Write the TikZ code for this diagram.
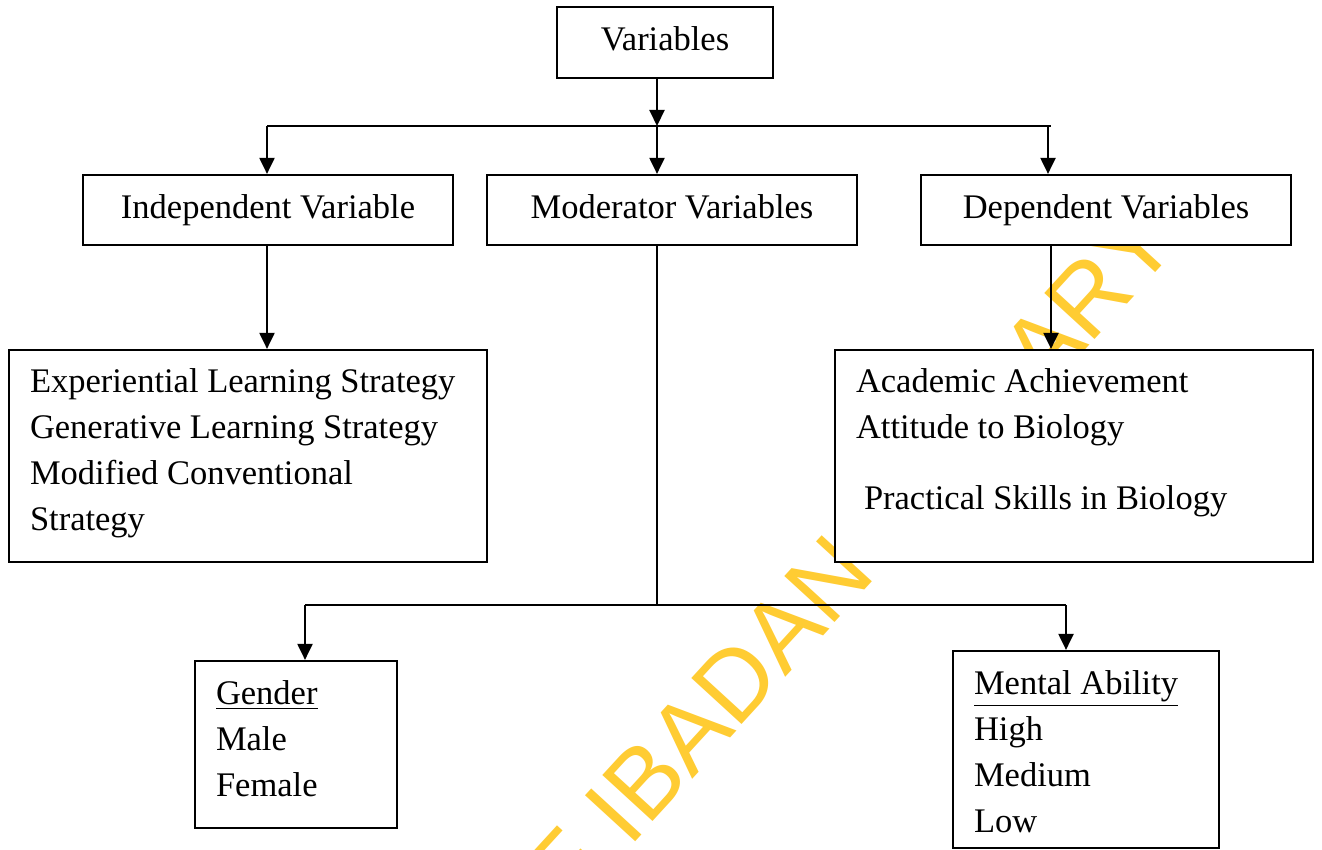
\documentclass[tikz,border=0pt]{standalone}
\usepackage{fontspec}
\setmainfont{Liberation Serif}
\newfontfamily\wmfont{Liberation Sans}
\usetikzlibrary{arrows.meta}
\definecolor{wmyellow}{RGB}{255,204,51}
\newcommand{\diagsize}{\fontsize{17.25}{22.9}\selectfont}

\begin{document}
\begin{tikzpicture}[x=0.5pt,y=-0.5pt,
  box/.style={draw=black, line width=1.1pt, fill=white, inner sep=0pt, font=\diagsize,
    text height=12pt, text depth=3.8pt},
  wide/.style={box, minimum width=185pt, minimum height=35pt},
  list/.style={anchor=north west, inner sep=0pt, outer sep=0pt, align=left, font=\diagsize},
  link/.style={draw=black, line width=1.05pt},
  arr/.style={link, -{Triangle[length=8pt,width=7.5pt]}},
  wm/.style={text=wmyellow, font=\wmfont\fontsize{49.5}{50}\selectfont, rotate=47.5, inner sep=0pt, outer sep=0pt}]

\useasboundingbox (0,0) rectangle (1322,850);
\fill[white] (0,0) rectangle (1322,850);

% library watermark behind everything
\begin{scope}
  \clip (0,0) rectangle (1322,850);
  \node[wm, anchor=base east] (wm-a) at (610,869) {UNIVERSITY OF};
  \node[wm, anchor=base west] (wm-b) at (629,848) {IBADAN LIBRARY};
\end{scope}

% boxes
\node[box, minimum width=108pt, minimum height=35.5pt] (var) at (665,42.5) {Variables};
\node[wide] (ind) at (268,210) {Independent Variable};
\node[wide] (mod) at (672,210) {Moderator Variables};
\node[wide] (dep) at (1106,210) {Dependent Variables};
\node[box, minimum width=239pt, minimum height=106pt] (str) at (248,456) {};
\node[box, minimum width=239pt, minimum height=106pt] (ach) at (1074,456) {};
\node[box, minimum width=101pt, minimum height=83.5pt] (gen) at (296,744.5) {};
\node[box, minimum width=133pt, minimum height=98.5pt] (men) at (1086,749.5) {};

% box contents
\node[list] (str-t) at (30,369) {Experiential Learning Strategy\\Generative Learning Strategy\\Modified Conventional\\Strategy};
\node[list] (ach-t) at (856,369) {Academic Achievement\\Attitude to Biology\\[12.5pt]\hspace*{4pt}Practical Skills in Biology};
\node[list] (gen-t) at (216,681) {\underline{Gender}\\Male\\Female};
\node[list] (men-t) at (974,671) {\underline{Mental Ability}\\High\\Medium\\Low};

% branch points
\coordinate (b-ind) at (267,126);
\coordinate (b-mod) at (657,126);
\coordinate (b-dep) at (1048,126);
\coordinate (b-end) at (1051,126);
\coordinate (m-mid) at (657,605);
\coordinate (m-gen) at (305,605);
\coordinate (m-men) at (1066,605);

% top level
\draw[arr] (var.south -| b-mod) -- (b-mod);
\draw[link] (b-ind) -- (b-end);
\draw[arr] (b-ind) -- (b-ind |- ind.north);
\draw[arr] (b-mod) -- (b-mod |- mod.north);
\draw[arr] (b-dep) -- (b-dep |- dep.north);

% second level
\draw[arr] (ind.south -| b-ind) -- (b-ind |- str.north);
\draw[arr] (dep.south -| b-end) -- (b-end |- ach.north);
\draw[link] (mod.south -| m-mid) -- (m-mid);
\draw[link] (m-gen) -- (m-men);
\draw[arr] (m-gen) -- (m-gen |- gen.north);
\draw[arr] (m-men) -- (m-men |- men.north);
\end{tikzpicture}
\end{document}
